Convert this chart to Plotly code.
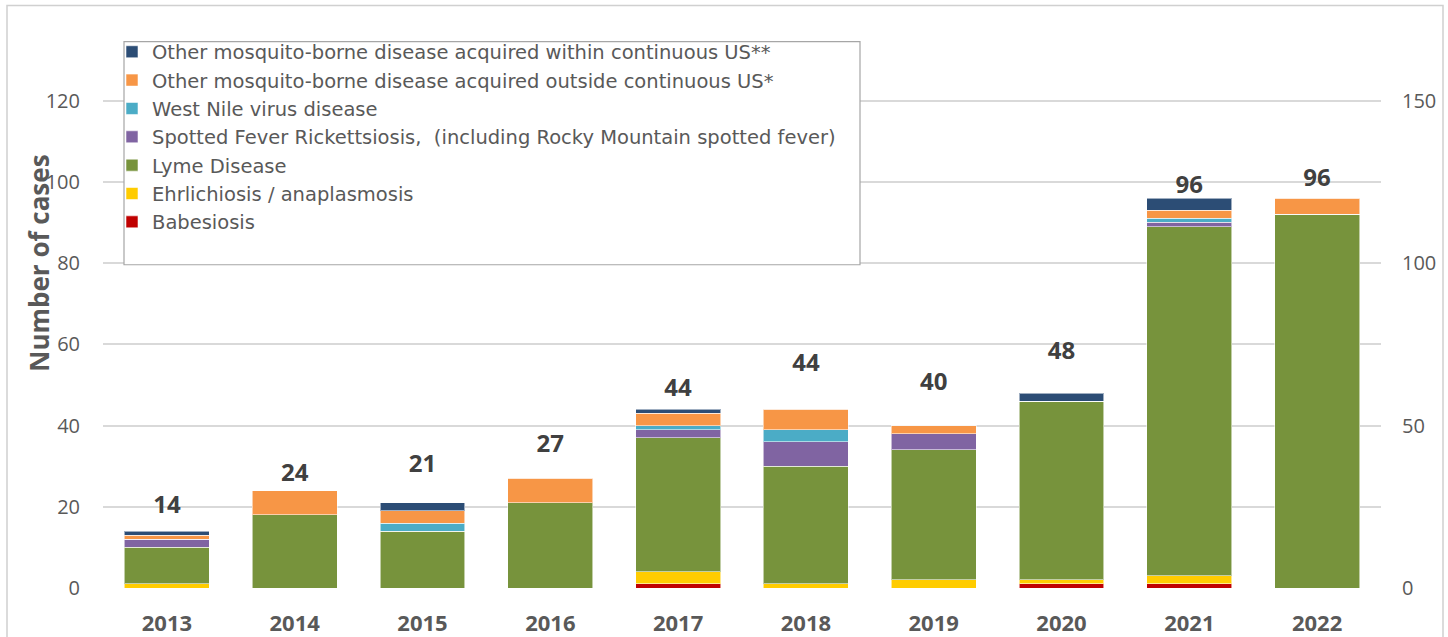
import plotly.graph_objects as go

years = ["2013", "2014", "2015", "2016", "2017", "2018", "2019", "2020", "2021", "2022"]

babesiosis   = [0, 0, 0, 0, 1, 0, 0, 1, 1, 0]
ehrlichiosis = [1, 0, 0, 0, 3, 1, 2, 1, 2, 0]
lyme         = [9, 18, 14, 21, 33, 29, 32, 44, 86, 92]
spotted      = [2, 0, 0, 0, 2, 6, 4, 0, 1, 0]
west_nile    = [0, 0, 2, 0, 1, 3, 0, 0, 1, 0]
mosq_outside = [1, 6, 3, 6, 3, 5, 2, 0, 2, 4]
mosq_within  = [1, 0, 2, 0, 1, 0, 0, 2, 3, 0]

totals = [14, 24, 21, 27, 44, 44, 40, 48, 96, 96]
# label anchor heights read on the secondary (right) axis
label_y2 = [24.9, 34.8, 37.4, 43.7, 60.8, 68.5, 62.8, 72.3, 123.4, 125.7]

series = [
    ("Babesiosis", babesiosis, "#C00000"),
    ("Ehrlichiosis / anaplasmosis", ehrlichiosis, "#FFCC00"),
    ("Lyme Disease", lyme, "#77933C"),
    ("Spotted Fever Rickettsiosis,  (including Rocky Mountain spotted fever)", spotted, "#8064A2"),
    ("West Nile virus disease", west_nile, "#4BACC6"),
    ("Other mosquito-borne disease acquired outside continuous US*", mosq_outside, "#F79646"),
    ("Other mosquito-borne disease acquired within continuous US**", mosq_within, "#2C4D75"),
]

FONT = "Open Sans"
LEG_FONT = "DejaVu Sans"
GREY = "#595959"

fig = go.Figure()
n = len(series)
for i, (name, vals, col) in enumerate(series):
    fig.add_trace(go.Bar(
        x=years, y=vals, name=name, legendgroup=f"g{i}", legendrank=n - i,
        marker=dict(color=col, line=dict(color="rgba(255,255,255,0.55)", width=1)),
        hoverinfo="x+y+name",
    ))

fig.add_trace(go.Scatter(
    x=years, y=label_y2, yaxis="y2", mode="text",
    text=[str(t) for t in totals], textposition="middle center",
    textfont=dict(family=FONT, size=24, color="#404040", weight="bold"),
    showlegend=False, hoverinfo="skip",
))

W, H = 1448, 637
L, R, T, B = 103, 1381, 60.4, 588.0
pw, ph = R - L, B - T

def px(x):
    return (x - L) / pw

def py(y):
    return (B - y) / ph

shapes = [
    # outer chart frame
    dict(type="rect", xref="paper", yref="paper", x0=px(7), x1=px(1443), y0=py(645), y1=py(6),
         line=dict(color="#d0d0d0", width=1.5), fillcolor="rgba(0,0,0,0)", layer="below"),
    # legend box
    dict(type="rect", xref="paper", yref="paper", x0=px(124), x1=px(860), y0=py(265), y1=py(42),
         line=dict(color="#a6a6a6", width=1.2), fillcolor="white", layer="above"),
]

fig.update_layout(
    width=W, height=H,
    margin=dict(l=L, r=W - R, t=T, b=H - B, autoexpand=False),
    paper_bgcolor="white", plot_bgcolor="white",
    barmode="stack", bargap=0.335,
    font=dict(family=FONT, color=GREY),
    shapes=shapes,
    showlegend=True,
    legend=dict(
        x=px(112), y=py(33), xanchor="left", yanchor="top",
        traceorder="grouped", tracegroupgap=0,
        font=dict(family=LEG_FONT, size=19.5, color=GREY),
        bgcolor="rgba(0,0,0,0)", borderwidth=0,
        itemclick=False,
    ),
    xaxis=dict(
        type="category", showgrid=False, zeroline=False, showline=False,
        ticks="", tickfont=dict(family=FONT, size=22, color=GREY, weight="bold"),
        ticklabelstandoff=20,
    ),
    yaxis=dict(
        range=[0, 130], tickvals=[0, 20, 40, 60, 80, 100, 120],
        showgrid=True, gridcolor="#d9d9d9", gridwidth=2,
        zeroline=False, showline=False, ticks="",
        tickfont=dict(family=FONT, size=20, color=GREY),
        ticklabelstandoff=22,
    ),
    yaxis2=dict(
        range=[0, 162.5], tickvals=[0, 50, 100, 150], overlaying="y", side="right",
        showgrid=False, zeroline=False, showline=False, ticks="",
        tickfont=dict(family=FONT, size=20, color=GREY),
        ticklabelstandoff=20,
    ),
    annotations=[
        dict(text="<b>Number of cases</b>", xref="paper", yref="paper",
             x=px(39), y=py(264), textangle=-90, showarrow=False,
             font=dict(family=FONT, size=26, color=GREY),
             xanchor="center", yanchor="middle"),
    ],
)

fig.write_html("out.html", config={"displayModeBar": False},
               post_script="document.body.style.margin='0';")
